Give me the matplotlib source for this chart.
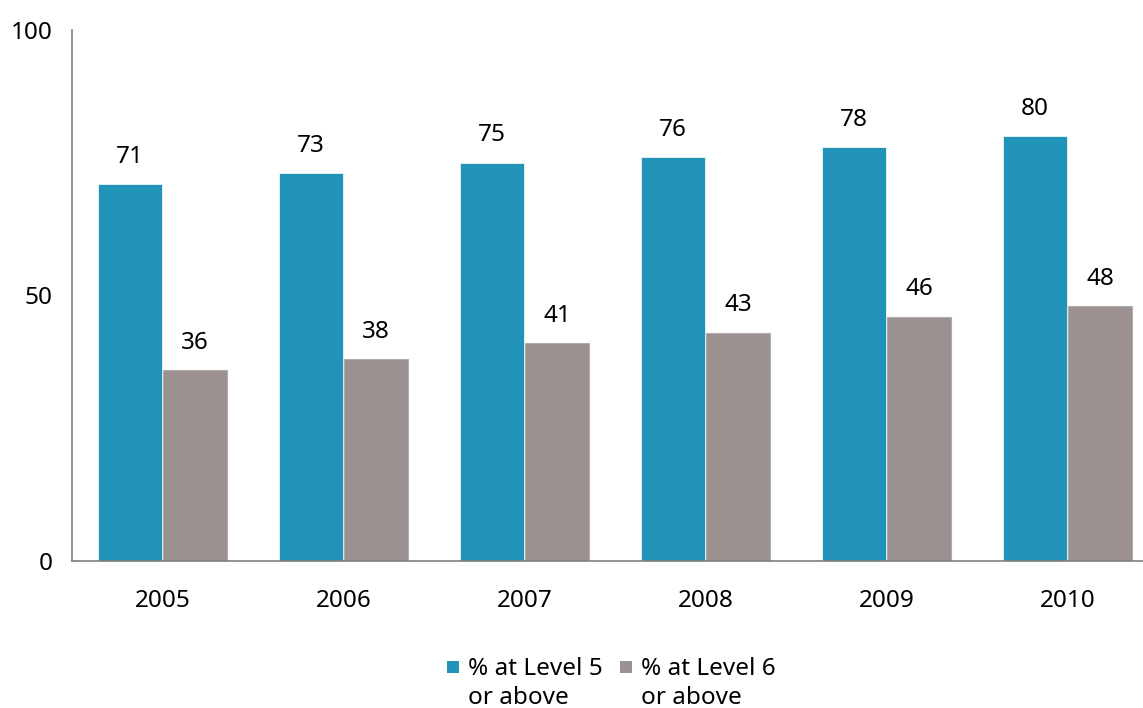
import matplotlib
matplotlib.use("Agg")
import matplotlib.pyplot as plt
from matplotlib.patches import Rectangle
import numpy as np

years = ["2005", "2006", "2007", "2008", "2009", "2010"]
level5 = [71, 73, 75, 76, 78, 80]
level6 = [36, 38, 41, 43, 46, 48]
series_names = ["% at Level 5\nor above", "% at Level 6\nor above"]
colors = ["#2192B8", "#9B9191"]

plt.rcParams["font.family"] = ["Noto Sans", "DejaVu Sans"]
FS = 17.5

W, H = 1143, 708
fig = plt.figure(figsize=(W/100, H/100), dpi=100)
ax = fig.add_axes([72/W, (H-561)/H, 1086/W, 531/H])

x = np.arange(len(years))
w = 0.35
off = 0.18
b1 = ax.bar(x - off, level5, w, color=colors[0], label=series_names[0], edgecolor="white", linewidth=0.5)
b2 = ax.bar(x + off, level6, w, color=colors[1], label=series_names[1], edgecolor="#b3abab", linewidth=0.8)

for bars, vals in ((b1, level5), (b2, level6)):
    for r, v in zip(bars, vals):
        ax.annotate(str(v), (r.get_x() + r.get_width()/2, v), xytext=(0, 11),
                    textcoords="offset points", ha="center", va="bottom", fontsize=FS)

ax.set_xlim(-0.5, 5.5)
ax.set_ylim(0, 100)
ax.set_yticks([0, 50, 100])
ax.set_xticks(x)
ax.set_xticklabels(years)
ax.tick_params(axis="y", length=0, pad=14, labelsize=FS)
ax.tick_params(axis="x", length=0, pad=20, labelsize=FS)
for s in ["top", "right"]:
    ax.spines[s].set_visible(False)
for s in ["left", "bottom"]:
    ax.spines[s].set_color("#7f7f7f")
    ax.spines[s].set_linewidth(1.2)

# legend drawn manually (square aligned with first text line)
leg_items = [(447, 468, series_names[0], colors[0]), (620, 641, series_names[1], colors[1])]
for sx, tx, name, c in leg_items:
    fig.patches.append(Rectangle((sx/W, (H-673)/H), 12/W, 12/H, transform=fig.transFigure,
                                 facecolor=c, edgecolor="none"))
    fig.text(tx/W, (H-657)/H, name, ha="left", va="top", fontsize=FS, linespacing=1.25)

fig.savefig("out.png", dpi=100)
